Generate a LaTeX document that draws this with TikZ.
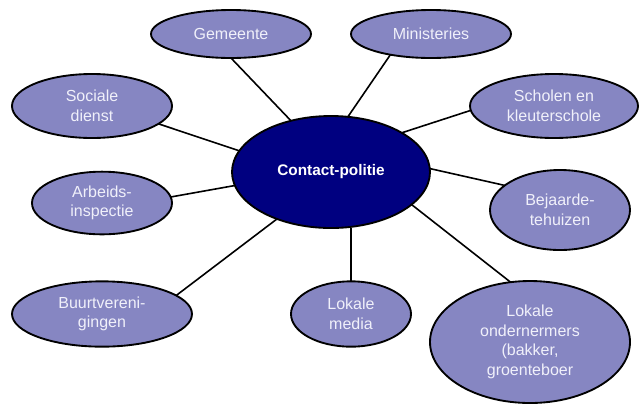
\documentclass[tikz,border=0pt]{standalone}
\usepackage{fontspec}
\setmainfont{Liberation Sans}
\usetikzlibrary{shapes.geometric}
\definecolor{topicfill}{RGB}{134,134,194}
\definecolor{topictext}{RGB}{240,240,250}
\definecolor{hubfill}{RGB}{0,0,128}
\begin{document}
\begin{tikzpicture}[x=0.75pt,y=-0.75pt,
    topic/.style={ellipse,draw,line width=1.4pt,fill=topicfill,text=topictext,
      inner sep=0pt,outer sep=0pt,align=center,
      font=\fontsize{12pt}{14.6pt}\selectfont},
    hub/.style={topic,fill=hubfill,text=white,
      font=\fontsize{11.5pt}{14pt}\selectfont\bfseries}]
      \useasboundingbox (0,0) rectangle (639,405);
      \draw
        (331,172) node[hub,minimum width=148.5pt,minimum height=84pt] (politie){Contact-politie}
        (231,34) node[topic,minimum width=120pt,minimum height=36pt] (gemeente){Gemeente}
        (431,34) node[topic,minimum width=120pt,minimum height=36pt] (ministeries){Ministeries}
        (92,106) node[topic,minimum width=120pt,minimum height=48pt] (sociale){Sociale\\dienst}
        (554,106) node[topic,minimum width=126pt,minimum height=48pt] (scholen){Scholen en\\kleuterschole}
        (102,203) node[topic,minimum width=105pt,minimum height=47pt] (arbeids){Arbeids-\\inspectie}
        (560,210) node[topic,minimum width=105pt,minimum height=60pt] (bejaarde){Bejaarde-\\tehuizen}
        (102,314) node[topic,minimum width=135pt,minimum height=49pt] (buurt){Buurtvereni-\\gingen}
        (351,314) node[topic,minimum width=90pt,minimum height=49pt] (media){Lokale\\media}
        (530,342) node[topic,minimum width=150pt,minimum height=91.5pt] (ondernemers){Lokale\\ondernermers\\(bakker,\\groenteboer};
      \begin{scope}[line width=1.2pt]
        \draw (gemeente.south) to (politie.128);
        \draw (ministeries.207) to (politie.73);
        \draw (sociale.-15) to (politie.167);
        \draw (scholen.183) to (politie.29);
        \draw (arbeids.5) to (politie.188);
        \draw (bejaarde.156) to (politie.2);
        \draw (buurt.14) to (politie.221);
        \draw (media.north) to (media.north |- politie.south);
        \draw (ondernemers.108) to (politie.-22);
      \end{scope}
    \end{tikzpicture}
\end{document}
